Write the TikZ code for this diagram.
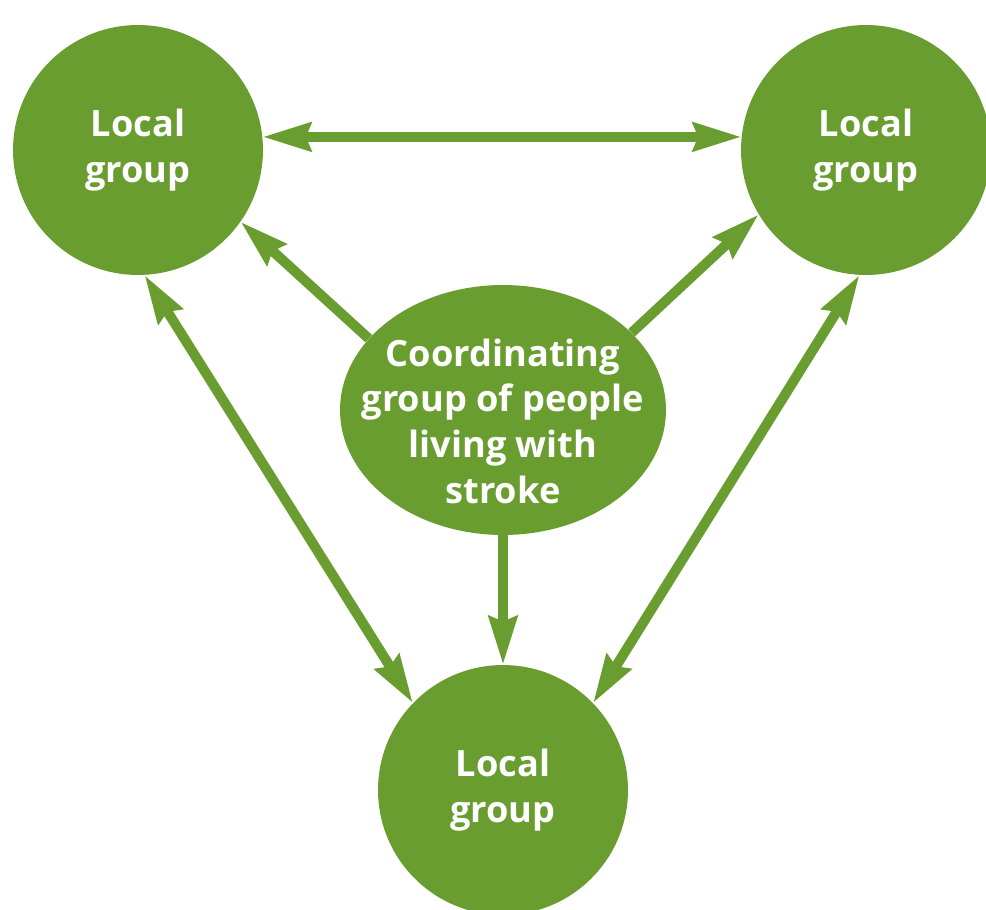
\documentclass[tikz,border=0pt]{standalone}
\usepackage{fontspec}
\setmainfont{Open Sans}
\usetikzlibrary{arrows.meta,shapes.geometric}
\definecolor{groupgreen}{HTML}{6A9D2F}
\tikzset{
  grp/.style={circle, fill=groupgreen, minimum size=5cm, inner sep=0pt},
  grptext/.style={text=white, align=center, font=\fontsize{20.6}{26}\selectfont\bfseries},
  oneway/.style={line width=0.2cm, draw=groupgreen, -{Stealth[length=0.96cm,width=0.56cm,inset=0.1cm]}},
  twoway/.style={line width=0.2cm, draw=groupgreen, {Stealth[length=0.96cm,width=0.56cm,inset=0.1cm]}-{Stealth[length=0.96cm,width=0.56cm,inset=0.1cm]}}
}

\begin{document}
\begin{tikzpicture}[x=0.02cm, y=-0.02cm]
			%%%%% START %%%%%
			\useasboundingbox (0, 0) rectangle (986, 909);
			\clip (0, 0) rectangle (986, 909);
			
			\node[grp, grptext] (tl) at (138, 150) {Local\\group};
			\node[grp, grptext] (tr) at (866, 150) {Local\\group};
			\node[grp, grptext] (bot) at (503, 790) {Local\\group};
			
			\node[ellipse, fill=groupgreen, minimum width=6.52cm, minimum height=5cm, inner sep=0pt] (ctr) at (503, 410) {};
			\node[grptext] (ctrtext) at (503, 421) {Coordinating\\group of people\\living with\\stroke};
			
			\draw[twoway] (tl.6) -- (tr.174);
			\draw[oneway] (ctr.152) -- (tl.-35);
			\draw[oneway] (ctr.31) -- (tr.211);
			\draw[oneway] (ctr.south) -- (bot.north);
			\draw[twoway] (tl.-87) -- (bot.136);
			\draw[twoway] (tr.-93) -- (bot.44);
			%%%%% END %%%%%
\end{tikzpicture}
\end{document}
